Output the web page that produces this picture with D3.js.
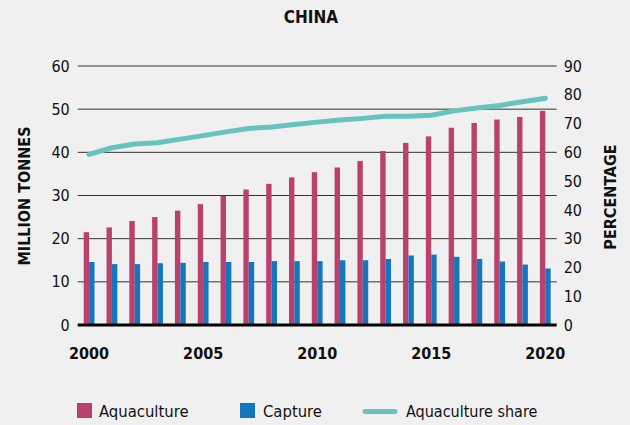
<!DOCTYPE html>
<html><head><meta charset="utf-8">
<script src="https://cdn.jsdelivr.net/npm/d3@7"></script>
<style>
body{margin:0;background:#f0f0f0;}
svg{display:block;}
text{font-family:"Liberation Sans Narrow","DejaVu Sans Condensed","Roboto",sans-serif;fill:#111;}
</style></head>
<body>
<svg id="c" width="630" height="425"></svg>
<script>
const years = d3.range(2000, 2021);
const aquaculture = [21.5,22.6,24.1,25.0,26.5,28.0,29.9,31.4,32.7,34.2,35.4,36.5,38.0,40.3,42.2,43.7,45.7,46.8,47.6,48.2,49.6];
const capture = [14.6,14.1,14.1,14.3,14.4,14.6,14.6,14.6,14.8,14.8,14.8,15.0,15.0,15.3,16.1,16.3,15.8,15.3,14.7,14.0,13.1];
const share = [59.3,61.6,62.9,63.3,64.6,65.8,67.1,68.3,68.8,69.7,70.5,71.2,71.8,72.5,72.5,72.9,74.4,75.4,76.3,77.6,78.8];
const leftTicks = [0,10,20,30,40,50,60];
const rightTicks = [0,10,20,30,40,50,60,70,80,90];
const yearLabels = [2000,2005,2010,2015,2020];

const svg = d3.select("#c");
const L = 77.7, R = 556.7, T = 66, B = 325;
const x = d3.scaleBand().domain(years).range([L, R]).padding(0);
const yL = d3.scaleLinear().domain([0,60]).range([B, T]);
const yR = d3.scaleLinear().domain([0,90]).range([B, T]);
const bw = 5.4;

svg.append("text").attr("x", 311).attr("y", 23).attr("text-anchor","middle")
  .attr("font-size", 17).attr("font-weight","bold").text("CHINA");

// gridlines
svg.append("g").selectAll("line").data(leftTicks.filter(d=>d>0)).join("line")
  .attr("x1", L).attr("x2", R).attr("y1", d=>yL(d)).attr("y2", d=>yL(d))
  .attr("stroke", "#333").attr("stroke-width", 1);

// left axis
const gl = svg.append("g").attr("transform", `translate(${L},0)`)
  .call(d3.axisLeft(yL).tickValues(leftTicks).tickSize(0).tickPadding(8));
gl.select(".domain").remove();
gl.selectAll("text").attr("font-size", 16).attr("font-family", null);

// right axis
const gr = svg.append("g").attr("transform", `translate(${R},0)`)
  .call(d3.axisRight(yR).tickValues(rightTicks).tickSize(0).tickPadding(7));
gr.select(".domain").remove();
gr.selectAll("text").attr("font-size", 16).attr("font-family", null);

// bars
svg.append("g").selectAll("rect").data(years).join("rect")
  .attr("x", (d)=>x(d) + x.bandwidth()/2 - bw)
  .attr("width", bw)
  .attr("y", (d,i)=>yL(aquaculture[i]))
  .attr("height", (d,i)=>B - yL(aquaculture[i]))
  .attr("fill", "#b8416e");
svg.append("g").selectAll("rect").data(years).join("rect")
  .attr("x", (d)=>x(d) + x.bandwidth()/2)
  .attr("width", bw)
  .attr("y", (d,i)=>yL(capture[i]))
  .attr("height", (d,i)=>B - yL(capture[i]))
  .attr("fill", "#1477bd");

// baseline
svg.append("line").attr("x1", L).attr("x2", R).attr("y1", B).attr("y2", B)
  .attr("stroke", "#000").attr("stroke-width", 3);

// share line
svg.append("path").datum(share)
  .attr("d", d3.line().x((d,i)=>x(years[i]) + x.bandwidth()/2).y(d=>yR(d)))
  .attr("fill","none").attr("stroke","#67c3bd").attr("stroke-width",5)
  .attr("stroke-linecap","round").attr("stroke-linejoin","round");

// x labels
svg.append("g").selectAll("text").data(yearLabels).join("text")
  .attr("x", d=>x(d) + x.bandwidth()/2).attr("y", 359)
  .attr("text-anchor","middle").attr("font-size",16).attr("font-weight","bold")
  .text(d=>d);

// axis titles
svg.append("text").attr("transform","translate(30,196) rotate(-90)")
  .attr("text-anchor","middle").attr("font-size",16).attr("font-weight","bold")
  .text("MILLION TONNES");
svg.append("text").attr("transform","translate(616,197) rotate(-90)")
  .attr("text-anchor","middle").attr("font-size",16).attr("font-weight","bold")
  .text("PERCENTAGE");

// legend
const lg = svg.append("g");
lg.append("rect").attr("x",77).attr("y",403).attr("width",15).attr("height",15).attr("fill","#b8416e");
lg.append("text").attr("x",99).attr("y",417).attr("font-size",16.5).text("Aquaculture");
lg.append("rect").attr("x",240).attr("y",403).attr("width",15).attr("height",15).attr("fill","#1477bd");
lg.append("text").attr("x",263).attr("y",417).attr("font-size",16.5).text("Capture");
lg.append("line").attr("x1",365).attr("x2",395).attr("y1",411.5).attr("y2",411.5)
  .attr("stroke","#67c3bd").attr("stroke-width",5).attr("stroke-linecap","round");
lg.append("text").attr("x",406).attr("y",417).attr("font-size",16).text("Aquaculture share");
</script>
</body></html>
